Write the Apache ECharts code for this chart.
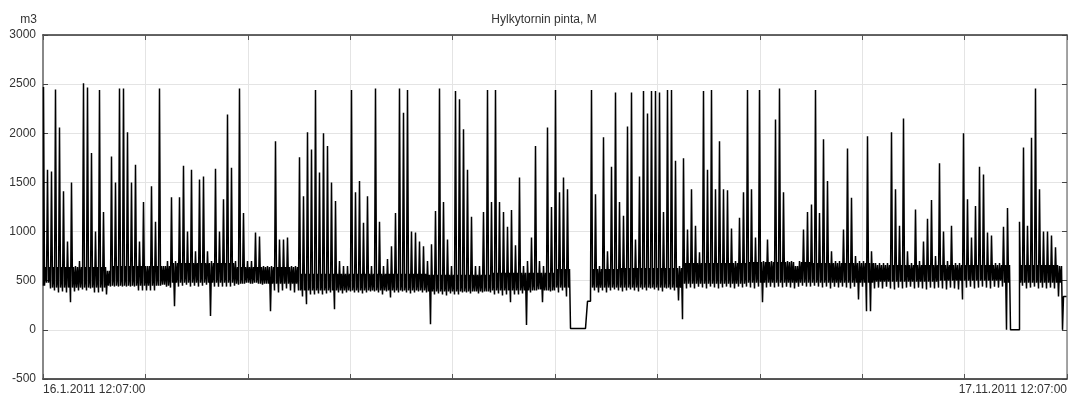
<!DOCTYPE html>
<html>
<head>
<meta charset="utf-8">
<script src="https://cdn.jsdelivr.net/npm/echarts@6/dist/echarts.min.js"></script>
<style>
html,body{margin:0;padding:0;background:#fff;}
#chart{width:1073px;height:396px;}
</style>
</head>
<body>
<div id="chart"></div>
<script>
// Title and labels
const chartTitle = 'Hylkytornin pinta, M';
const unitLabel = 'm3';
const startLabel = '16.1.2011 12:07:00';
const endLabel = '17.11.2011 12:07:00';
const totalDays = 305; // 16.1.2011 -> 17.11.2011
const yTicks = [-500, 0, 500, 1000, 1500, 2000, 2500, 3000];

// Per-interval maxima (256 equal time slices)
const sliceHigh = [
2470,1630,1610,2446,2060,1410,900,1500,650,700,2508,2465,1800,1000,2440,1200,
600,1765,1500,2455,2455,2010,1500,1680,900,1300,650,1460,1100,2455,650,700,
1350,700,1350,1670,1000,1630,800,1530,1560,800,700,1640,1000,1330,2190,1650,
700,2455,1190,700,700,990,950,650,650,650,1920,920,920,940,650,650,
1755,1360,2010,1836,2440,1600,2000,1870,1500,1310,700,650,650,2440,1400,1515,
1090,1360,650,2455,1100,650,720,850,1190,2455,2210,2440,1000,990,900,850,
700,870,1210,2455,1300,920,650,2430,2345,2040,1630,1150,650,650,1200,2440,
1300,2440,1300,1200,1050,1220,860,1550,650,700,940,1870,700,650,2060,1250,
2440,1400,1550,1430,15,15,15,15,290,2440,1380,650,1960,800,1660,2415,
1300,1160,2070,2415,920,1560,2430,2200,2430,2430,2415,1200,2440,2440,1720,650,
1745,1020,1430,1060,790,2430,1630,2440,1430,1920,1430,1420,1030,700,1140,1400,
2440,1430,940,2440,700,920,700,2140,2455,1400,700,700,650,700,1020,1200,
1275,2440,1190,1940,1515,800,700,700,1020,1845,1345,750,700,700,1970,800,
680,680,680,680,2010,1430,1060,2150,800,680,1225,700,900,1130,1320,750,
1695,1000,700,1060,680,680,2000,1330,940,1260,1660,1580,990,960,680,680,
1050,1240,0,0,1100,1855,1060,1955,2455,1430,1000,1000,960,840,650,340
];

// Per-interval minima
const sliceLow = [
450,480,420,400,380,390,380,280,390,400,410,400,420,380,380,390,
360,440,440,440,440,440,440,440,400,400,400,400,400,450,460,440,
430,240,440,450,460,440,450,440,450,460,140,440,440,440,440,440,
450,460,470,480,470,480,470,460,470,190,400,380,400,420,400,380,
400,340,260,360,360,370,360,370,380,210,380,370,380,390,380,380,
370,380,390,390,380,360,390,330,380,380,390,380,370,380,390,380,
380,56,360,370,360,350,370,360,360,380,380,370,390,370,380,390,
380,360,370,350,360,280,360,360,370,50,380,400,410,280,400,390,
400,380,400,340,15,15,15,15,15,350,400,380,400,380,400,410,
400,390,400,410,400,390,410,400,420,410,400,390,420,410,400,300,
107,420,430,420,440,430,420,440,430,420,430,440,430,420,440,430,
440,430,420,440,280,430,440,430,440,430,440,430,420,440,450,440,
440,450,440,430,440,420,440,430,440,430,420,440,310,440,190,190,
420,430,420,440,420,410,430,420,430,440,420,430,420,410,430,420,
430,420,410,430,420,410,310,430,440,420,430,440,430,420,440,430,
440,0,0,0,0,450,420,430,440,420,430,420,430,420,340,0
];

// Dense "normal level" band, one pair per 16 slices (lower / upper edge)
const bandLowByRegion  = [430, 450, 480, 470, 400, 400, 390, 400, 430, 430, 470, 480, 480, 490, 500, 480];
const bandHighByRegion = [640, 650, 680, 640, 570, 570, 560, 580, 620, 630, 680, 690, 680, 660, 660, 660];

const nSlices = sliceHigh.length;
const dayPerSlice = totalDays / nSlices;
const regionSize = nSlices / bandLowByRegion.length;
const clamp = (v, a, b) => Math.min(Math.max(v, a), b);
const seriesData = [];
for (let i = 0; i < nSlices; i++) {
  const lo = sliceLow[i], hi = sliceHigh[i];
  const r = Math.floor(i / regionSize);
  const bLo = clamp(bandLowByRegion[r], lo, hi);
  const bHi = clamp(bandHighByRegion[r], lo, hi);
  seriesData.push([(i + 0.125) * dayPerSlice, lo]);
  seriesData.push([(i + 0.375) * dayPerSlice, hi]);
  seriesData.push([(i + 0.625) * dayPerSlice, bLo]);
  seriesData.push([(i + 0.875) * dayPerSlice, bHi]);
}

const txt = {fontFamily: 'Liberation Sans, Arial, sans-serif', fontSize: 12, color: '#333'};

const chart = echarts.init(document.getElementById('chart'), null, {renderer: 'canvas'});
chart.setOption({
  animation: false,
  backgroundColor: '#fff',
  title: {
    text: chartTitle,
    left: 539,
    top: 9,
    textAlign: 'center',
    textStyle: Object.assign({}, txt, {fontWeight: 'normal'})
  },
  grid: {left: 43, right: 6, top: 35, bottom: 15, containLabel: false},
  xAxis: [{
    type: 'value', min: 0, max: totalDays, interval: totalDays / 10,
    axisLine: {show: true, onZero: false, lineStyle: {color: '#222', width: 1.5}},
    axisTick: {show: true, inside: true, length: 5, lineStyle: {color: '#555'}},
    splitLine: {show: true, lineStyle: {color: '#e4e4e4', width: 1}},
    axisLabel: Object.assign({}, txt, {
      margin: 5, showMinLabel: true, showMaxLabel: true, hideOverlap: false,
      alignMinLabel: 'left', alignMaxLabel: 'right',
      formatter: function (v) { return v === 0 ? startLabel : (Math.abs(v - totalDays) < 1e-6 ? endLabel : ''); }
    })
  }, {
    type: 'value', position: 'top', min: 0, max: totalDays, interval: totalDays / 10,
    axisLine: {show: true, onZero: false, lineStyle: {color: '#333', width: 1.5}},
    axisTick: {show: true, inside: true, length: 5, lineStyle: {color: '#555'}},
    splitLine: {show: false}, axisLabel: {show: false}
  }],
  yAxis: [{
    type: 'value', min: yTicks[0], max: yTicks[yTicks.length - 1], interval: 500,
    name: unitLabel, nameLocation: 'end', nameGap: 9,
    nameTextStyle: Object.assign({}, txt, {align: 'right', padding: [0, 6, 0, 0]}),
    axisLine: {show: true, onZero: false, lineStyle: {color: '#888', width: 2}},
    axisTick: {show: true, inside: true, length: 5, lineStyle: {color: '#444'}},
    splitLine: {show: true, lineStyle: {color: '#e4e4e4', width: 1}},
    axisLabel: Object.assign({}, txt, {margin: 7, formatter: function (v) { return String(v); }})
  }, {
    type: 'value', position: 'right', min: yTicks[0], max: yTicks[yTicks.length - 1], interval: 500,
    axisLine: {show: true, onZero: false, lineStyle: {color: '#888', width: 1.5}},
    axisTick: {show: true, inside: true, length: 5, lineStyle: {color: '#444'}},
    splitLine: {show: false}, axisLabel: {show: false}
  }],
  series: [{
    type: 'line',
    data: seriesData,
    step: 'start',
    showSymbol: false,
    symbol: 'none',
    sampling: null,
    lineStyle: {color: '#000', width: 1.5, join: 'bevel'},
    z: 3
  }]
});
</script>
</body>
</html>
